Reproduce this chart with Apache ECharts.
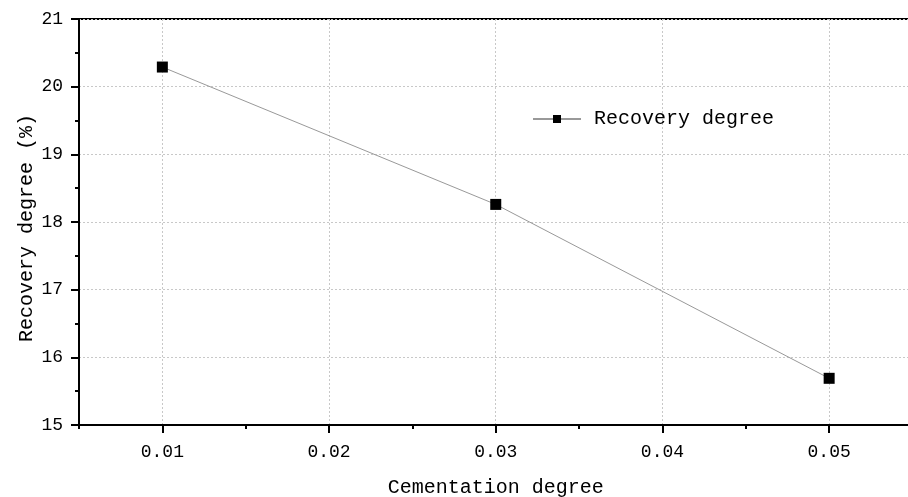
<!DOCTYPE html>
<html><head><meta charset="utf-8">
<script src="https://cdn.jsdelivr.net/npm/echarts@6/dist/echarts.min.js"></script>
<style>html,body{margin:0;padding:0;background:#fff}#c{width:908px;height:497px}</style>
</head><body><div id="c"></div>
<script>
const cementation = [0.01, 0.03, 0.05];
const recovery = [20.29, 18.26, 15.69];
const xMajorTicks = [0.01, 0.02, 0.03, 0.04, 0.05];
const seriesName = 'Recovery degree';
const xName = 'Cementation degree';
const yName = 'Recovery degree (%)';

const FONT = 'Liberation Mono';
const chart = echarts.init(document.getElementById('c'), null, {renderer: 'canvas'});
chart.setOption({
  animation: false,
  backgroundColor: '#fff',
  grid: {left: 79, top: 19, bottom: 72, right: -4.5, outerBoundsMode: 'none', containLabel: false,
    show: true, borderColor: '#000', borderWidth: 2, backgroundColor: 'transparent'},
  legend: {
    left: 527, top: 104, itemWidth: 48, itemHeight: 10,
    data: [seriesName],
    textStyle: {fontFamily: FONT, fontSize: 20, color: '#000', padding: [0, 0, 0, 8]}
  },
  xAxis: [{
    type: 'value', min: 0.005, max: 0.055, splitNumber: 5,
    position: 'bottom',
    name: xName, nameLocation: 'middle', nameGap: 53, nameMoveOverlap: false,
    nameTextStyle: {fontFamily: FONT, fontSize: 20, color: '#000'},
    axisLine: {lineStyle: {color: '#000', width: 2}},
    axisTick: {customValues: xMajorTicks, length: 8, inside: false, lineStyle: {color: '#000', width: 2}},
    axisLabel: {customValues: xMajorTicks, margin: 18, fontFamily: FONT, fontSize: 18, color: '#000',
      formatter: v => v.toFixed(2)},
    splitLine: {show: true, lineStyle: {color: '#c8c8c8', type: [2, 2], width: 1}}
  }, {
    type: 'value', min: 0.005, max: 0.055, interval: 0.01,
    position: 'bottom', offset: 0,
    axisLine: {show: false},
    axisTick: {show: true, length: 4, lineStyle: {color: '#000', width: 2}},
    axisLabel: {show: false},
    splitLine: {show: false}
  }],
  yAxis: {
    type: 'value', min: 15, max: 21, interval: 1,
    name: yName, nameLocation: 'middle', nameGap: 42, nameMoveOverlap: false,
    nameTextStyle: {fontFamily: FONT, fontSize: 20, color: '#000', padding: [0, 12, 0, 0]},
    axisLine: {show: true, lineStyle: {color: '#000', width: 2}},
    axisTick: {show: true, length: 8, lineStyle: {color: '#000', width: 2}},
    minorTick: {show: true, splitNumber: 2, length: 4, lineStyle: {color: '#000', width: 2}},
    axisLabel: {margin: 16, fontFamily: FONT, fontSize: 18, color: '#000'},
    splitLine: {show: true, lineStyle: {color: '#c8c8c8', type: [2, 2], width: 1}}
  },
  series: [{
    name: seriesName, type: 'line', xAxisIndex: 0,
    data: cementation.map((x, i) => [x, recovery[i]]),
    symbol: 'rect', symbolSize: 11,
    itemStyle: {color: '#000'},
    lineStyle: {color: '#999', width: 1}
  }]
});
</script></body></html>
